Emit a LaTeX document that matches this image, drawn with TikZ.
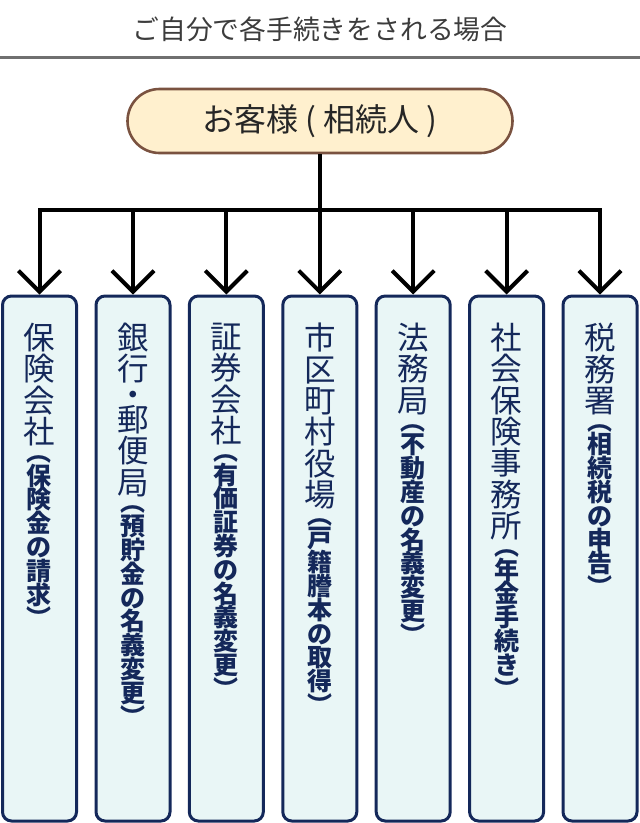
\documentclass[tikz,border=0pt]{standalone}
\usepackage{fontspec}
\setmainfont{Noto Sans CJK JP}
\usetikzlibrary{arrows.meta}
\definecolor{navy}{HTML}{14285A}
\definecolor{boxfill}{HTML}{E9F6F6}
\definecolor{cream}{HTML}{FFF0CE}
\definecolor{pillbrown}{HTML}{7A5240}
\definecolor{rulegray}{HTML}{707070}
\definecolor{titlegray}{HTML}{3C3C3C}
\newlength\vcw \vcw=40pt
\makeatletter
\def\vk{\relax}
\def\vst#1{\vst@loop#1\@nil}
\def\vst@loop#1{%
  \ifx#1\@nil\else
    \ifx#1\vk\kern-6pt\relax\else\hbox to\vcw{\hss#1\hss}\fi
    \expandafter\vst@loop
  \fi}
\makeatother
\newcommand\vlabel[2]{\vbox{\hsize=\vcw
  \fontsize{31.5}{31.5}\selectfont\baselineskip=31.3pt\lineskiplimit=-100pt\lineskip=0pt
  \vst{#1}%
  \fontsize{25}{23.8}\bfseries\selectfont\baselineskip=23.8pt\lineskiplimit=-100pt\lineskip=0pt
  \kern-6pt\vst{#2}}}
\tikzset{
  titletext/.style={font=\fontsize{26.8}{30}\selectfont, text=titlegray, inner sep=0pt},
  pill/.style={draw=pillbrown, line width=2.6pt, fill=cream, rounded corners=32pt,
    minimum width=385pt, minimum height=64pt, inner sep=0pt,
    font=\fontsize{32}{34}\selectfont, text=black!85},
  officebox/.style={draw=navy, line width=3pt, fill=boxfill, rounded corners=9pt,
    minimum width=74pt, minimum height=525pt, inner sep=0pt},
  vtext/.style={anchor=north, inner sep=0pt, text=navy},
  conn/.style={line width=4pt, black},
  arr/.style={conn, -{Straight Barb[length=21pt, width=42pt, line width=4pt]}},
}
\begin{document}
\begin{tikzpicture}[x=1pt, y=-1pt]
\useasboundingbox (0,0) rectangle (640,823);
\node[titletext] (title) at (320,29) {ご自分で各手続きをされる場合};
\draw[rulegray, line width=3pt] (0,57) -- (640,57);
\node[pill] (cust) at (320,121) {お客様 ( 相続人 )};
\foreach \i/\x in {1/39.5, 2/133, 3/226.3, 4/319.8, 5/413.2, 6/506.6, 7/600}{
  \node[officebox] (b\i) at (\x,558.5) {};
}
\coordinate (busL) at (39.5,210);
\coordinate (busR) at (600,210);
\draw[conn] (cust.south) -- (cust.south |- busL);
\draw[conn, line cap=rect] (busL) -- (busR);
\foreach \i in {1,...,7}{
  \draw[arr] (b\i.north |- busL) -- (b\i.north);
}
\node[vtext] (t1) at (b1.center |- 0,323) {\vlabel{保険会社}{︵保険金の請求︶}};
\node[vtext] (t2) at (b2.center |- 0,323) {\vlabel{銀行\vk ・\vk 郵便局}{︵預貯金の名義変更︶}};
\node[vtext] (t3) at (b3.center |- 0,323) {\vlabel{証券会社}{︵有価証券の名義変更︶}};
\node[vtext] (t4) at (b4.center |- 0,323) {\vlabel{市区町村役場}{︵戸籍謄本の取得︶}};
\node[vtext] (t5) at (b5.center |- 0,323) {\vlabel{法務局}{︵不動産の名義変更︶}};
\node[vtext] (t6) at (b6.center |- 0,323) {\vlabel{社会保険事務所}{︵年金手続き︶}};
\node[vtext] (t7) at (b7.center |- 0,323) {\vlabel{税務署}{︵相続税の申告︶}};
\end{tikzpicture}
\end{document}
